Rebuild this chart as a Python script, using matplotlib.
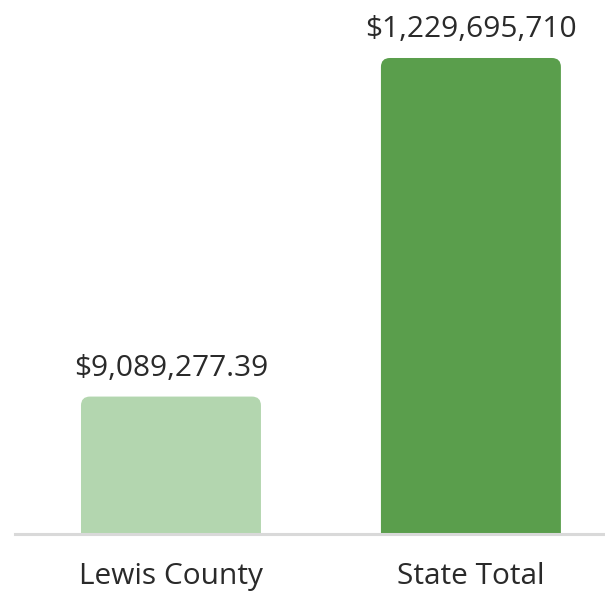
import matplotlib
matplotlib.use("Agg")
import matplotlib.pyplot as plt
from matplotlib.patches import FancyBboxPatch
from matplotlib.transforms import IdentityTransform

categories = ["Lewis County", "State Total"]
values = [9089277.39, 1229695710]
value_labels = ["$9,089,277.39", "$1,229,695,710"]
colors = ["#b3d6af", "#5a9e4c"]

plt.rcParams['font.family'] = ['Open Sans', 'DejaVu Sans']

fig = plt.figure(figsize=(6.05, 5.96), dpi=100)
ax = fig.add_axes([15 / 605, 62 / 596, 590 / 605, 534 / 596])

bars = ax.bar(range(len(categories)), values, width=0.6, color=colors)
ax.set_yscale("log")
ax.set_ylim(1.24e6, 2.85e9)
ax.set_xlim(-0.52, 1.447)

for s in ["top", "right", "left"]:
    ax.spines[s].set_visible(False)
ax.spines["bottom"].set_color("#d9d9d9")
ax.spines["bottom"].set_linewidth(2.2)
ax.set_yticks([])
ax.yaxis.set_minor_locator(matplotlib.ticker.NullLocator())
ax.set_xticks(range(len(categories)))
ax.set_xticklabels(categories, fontsize=21.5, color="#2a2a2a")
ax.tick_params(axis="x", length=0, pad=20)

# swap plain bars for rounded ones in pixel space
fig.canvas.draw()
for b in bars:
    ext = b.get_window_extent()
    r = 9
    p = FancyBboxPatch((ext.x0, ext.y0 - r), ext.width, ext.height + r,
                       boxstyle="round,pad=0,rounding_size=%d" % r,
                       facecolor=b.get_facecolor(), edgecolor="none",
                       transform=IdentityTransform(), clip_on=True)
    p.set_clip_box(ax.bbox)
    ax.add_artist(p)
    b.set_visible(False)

for i, (v, lab) in enumerate(zip(values, value_labels)):
    ax.annotate(lab, (i, v), xytext=(0, 10), textcoords="offset points",
                ha="center", va="bottom", fontsize=21.5, color="#2a2a2a")

fig.savefig("out.png", dpi=100, facecolor="white")
